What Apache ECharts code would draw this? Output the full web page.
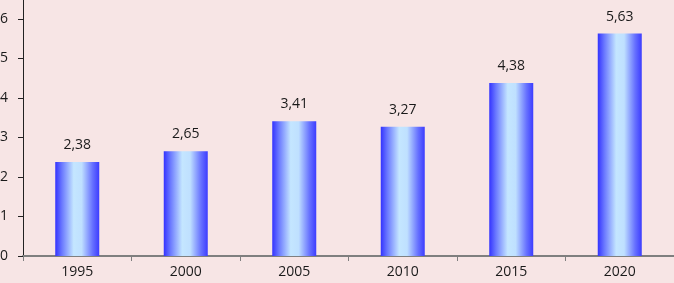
<!DOCTYPE html>
<html><head><meta charset="utf-8">
<script src="https://cdn.jsdelivr.net/npm/echarts@6/dist/echarts.min.js"></script>
<style>html,body{margin:0;padding:0;background:#f7e5e5;}#c{width:674px;height:283px;}</style>
</head><body><div id="c"></div>
<script>
const categories = ['1995','2000','2005','2010','2015','2020'];
const values = [2.38, 2.65, 3.41, 3.27, 4.38, 5.63];
const yTicks = [0,1,2,3,4,5,6];

const chart = echarts.init(document.getElementById('c'), null, {renderer:'canvas'});
const grad = new echarts.graphic.LinearGradient(0,0,1,0,[
  {offset:0, color:'#3333ff'},
  {offset:0.15, color:'#6a78ff'},
  {offset:0.42, color:'#c4e6ff'},
  {offset:0.6, color:'#bfe0ff'},
  {offset:0.85, color:'#6670ff'},
  {offset:1, color:'#3c3cff'}
]);
chart.setOption({
  animation:false,
  backgroundColor:'#f7e5e5',
  grid:{left:23,right:0,top:0,bottom:27,containLabel:false,outerBoundsMode:'none'},
  xAxis:{type:'category',data:categories,
    axisLine:{lineStyle:{color:'#7f7f7f',width:2}},
    axisTick:{show:true,interval:0,alignWithLabel:false,length:5,lineStyle:{color:'#7f7f7f',width:1}},
    axisLabel:{color:'#1a1a1a',fontSize:14,fontFamily:'Open Sans',margin:9}},
  yAxis:{type:'value',min:0,max:6.48,
    axisLine:{show:true,lineStyle:{color:'#222',width:1}},
    axisTick:{show:true,length:5,customValues:yTicks,lineStyle:{color:'#222'}},
    splitLine:{show:false},
    axisLabel:{color:'#1a1a1a',fontSize:14,fontFamily:'Open Sans',margin:15,customValues:yTicks}},
  series:[{type:'bar',data:values,barWidth:44,
    itemStyle:{color:grad},
    label:{show:true,position:'top',distance:10,color:'#1a1a1a',fontSize:14,fontFamily:'Open Sans',
      formatter:p=>p.value.toFixed(2).replace('.',',')}}]
});
</script></body></html>
